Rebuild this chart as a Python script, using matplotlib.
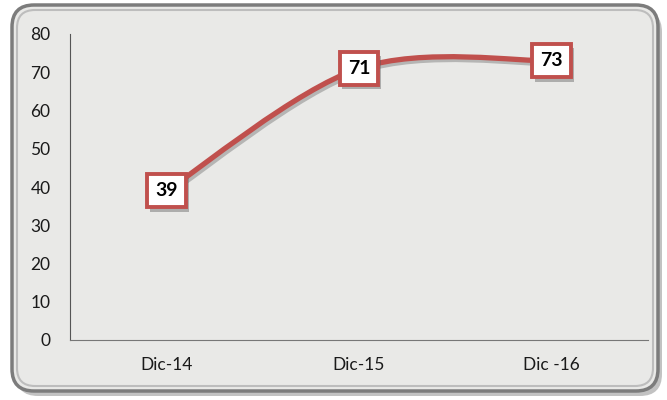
import matplotlib.pyplot as plt
import matplotlib.patheffects as pe
from matplotlib.patches import FancyBboxPatch, PathPatch
from matplotlib.path import Path

categories = ["Dic-14", "Dic-15", "Dic -16"]
values = [39, 71, 73]
yticks = [0, 10, 20, 30, 40, 50, 60, 70, 80]

red = "#c0504d"
plt.rcParams["font.family"] = ["Lato", "DejaVu Sans"]

fig = plt.figure(figsize=(6.67, 4.0), dpi=100)
fig.patch.set_facecolor("white")

# rounded frame with shadow
frame_ax = fig.add_axes([0, 0, 1, 1])
frame_ax.set_xlim(0, 667)
frame_ax.set_ylim(400, 0)
frame_ax.axis("off")
frame_ax.add_patch(FancyBboxPatch((16, 10), 646, 386,
                                  boxstyle="round,pad=0,rounding_size=22",
                                  facecolor="#9a9a9a", edgecolor="none",
                                  alpha=0.6))
frame_ax.add_patch(FancyBboxPatch((12, 5), 646, 386,
                                  boxstyle="round,pad=0,rounding_size=22",
                                  facecolor="#e9e9e7", edgecolor="#7c7c7c",
                                  linewidth=2.5))
frame_ax.add_patch(FancyBboxPatch((17, 10), 636, 376,
                                  boxstyle="round,pad=0,rounding_size=18",
                                  facecolor="none", edgecolor="#bdbdbd",
                                  linewidth=1.5))

ax = fig.add_axes([70 / 667, 60 / 400, 578 / 667, 306 / 400])
ax.set_facecolor("none")
ax.set_xlim(-0.5, len(categories) - 0.5)
ax.set_ylim(0, 80)
ax.set_yticks(yticks)
ax.set_xticks(range(len(categories)))
ax.set_xticklabels(categories)
ax.tick_params(length=0, labelsize=12.5, colors="#1a1a1a")
ax.tick_params(axis="x", pad=12)
ax.tick_params(axis="y", pad=14)
for s in ["top", "right"]:
    ax.spines[s].set_visible(False)
ax.spines["left"].set_color("#555555")
ax.spines["bottom"].set_color("#777777")
ax.spines["left"].set_linewidth(0.8)
ax.spines["bottom"].set_linewidth(0.8)

# smoothed line built as cubic bezier segments
xs = list(range(len(values)))
pts = list(zip(xs, values))
verts = [pts[0]]
codes = [Path.MOVETO]
for i in range(len(pts) - 1):
    p0 = pts[i - 1] if i > 0 else pts[i]
    p1 = pts[i]
    p2 = pts[i + 1]
    p3 = pts[i + 2] if i + 2 < len(pts) else pts[i + 1]
    c1 = (p1[0] + (p2[0] - p0[0]) / 6, p1[1] + (p2[1] - p0[1]) / 6)
    c2 = (p2[0] - (p3[0] - p1[0]) / 6, p2[1] - (p3[1] - p1[1]) / 6)
    verts += [c1, c2, p2]
    codes += [Path.CURVE4] * 3
line = PathPatch(Path(verts, codes), facecolor="none",
                 edgecolor=red, linewidth=3.8, capstyle="round")
line.set_path_effects([
    pe.SimpleLineShadow(offset=(1.5, -2), shadow_color="#555555", alpha=0.35),
    pe.Normal()])
ax.add_patch(line)

for x, v in zip(xs, values):
    ann = ax.annotate(str(v), (x, v), ha="center", va="center", fontsize=14,
                      fontweight="bold", color="black",
                      bbox=dict(boxstyle="square,pad=0.42", facecolor="white",
                                edgecolor=red, linewidth=2.8))
    ann.get_bbox_patch().set_path_effects([
        pe.SimplePatchShadow(offset=(2, -3), shadow_rgbFace="#555555",
                             alpha=0.4),
        pe.Normal()])

fig.savefig("out.png", dpi=100)
